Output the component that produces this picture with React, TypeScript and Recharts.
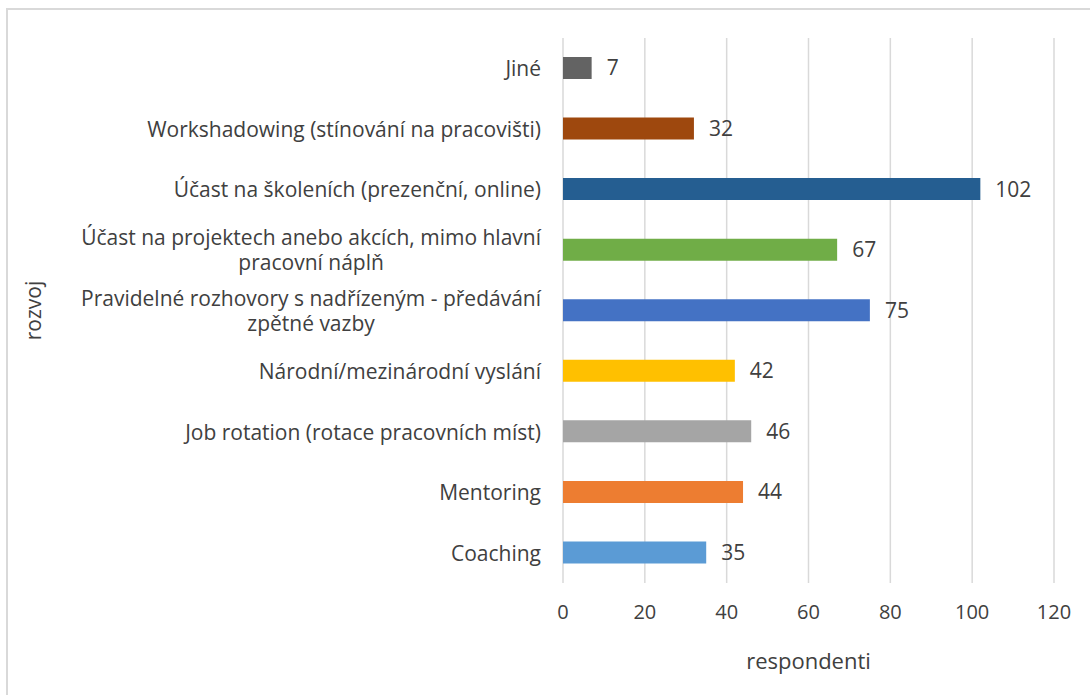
import { BarChart, Bar, XAxis, YAxis, CartesianGrid, Cell, LabelList } from 'recharts';

const categories = [
  'Jiné',
  'Workshadowing (stínování na pracovišti)',
  'Účast na školeních (prezenční, online)',
  'Účast na projektech anebo akcích, mimo hlavní pracovní náplň',
  'Pravidelné rozhovory s nadřízeným - předávání zpětné vazby',
  'Národní/mezinárodní vyslání',
  'Job rotation (rotace pracovních míst)',
  'Mentoring',
  'Coaching',
];
const respondents = [7, 32, 102, 67, 75, 42, 46, 44, 35];
const barColors = ['#636363', '#9E480E', '#255E91', '#70AD47', '#4472C4', '#FFC000', '#A5A5A5', '#ED7D31', '#5B9BD5'];
const xTicks = [0, 20, 40, 60, 80, 100, 120];

const FONT = "'Open Sans', sans-serif";
const TEXT = '#404040';
const CAT_SIZE = 21;

let ctx: CanvasRenderingContext2D | null = null;
const measure = (s: string, size: number) => {
  if (!ctx) ctx = document.createElement('canvas').getContext('2d');
  if (!ctx) return s.length * size * 0.5;
  ctx.font = `${size}px 'Open Sans'`;
  return ctx.measureText(s).width;
};

// break long labels into lines like Excel does
const wrap = (label: string, maxWidth: number, size: number) => {
  const words = label.split(' ');
  const lines: string[] = [];
  let cur = '';
  words.forEach((w) => {
    const next = cur ? cur + ' ' + w : w;
    if (cur && measure(next, size) > maxWidth) {
      lines.push(cur);
      cur = w;
    } else cur = next;
  });
  if (cur) lines.push(cur);
  return lines;
};

const CategoryTick = ({ x, y, payload }: any) => {
  const lines = wrap(payload.value, 500, CAT_SIZE);
  const widest = Math.max(...lines.map((l) => measure(l, CAT_SIZE)));
  const cx = x - widest / 2;
  const lineH = 25;
  const startY = y - ((lines.length - 1) * lineH) / 2;
  return (
    <text textAnchor="middle" fill={TEXT} fontSize={CAT_SIZE} fontFamily={FONT} dominantBaseline="central">
      {lines.map((l, i) => (
        <tspan key={i} x={cx} y={startY + i * lineH}>
          {l}
        </tspan>
      ))}
    </text>
  );
};

const data = categories.map((name, i) => ({ name, value: respondents[i] }));

export default function App() {
  return (
    <div style={{ position: 'fixed', left: 0, top: 0, width: 1090, height: 695, overflow: 'hidden', background: '#fff' }}>
      <div
        style={{
          position: 'absolute',
          left: 6,
          top: 8,
          width: 1200,
          height: 800,
          border: '2px solid #d9d9d9',
        }}
      />
      <div style={{ position: 'absolute', left: 0, top: 0 }}>
        <BarChart
          width={1090}
          height={695}
          data={data}
          layout="vertical"
          margin={{ top: 38, right: 36, bottom: 0, left: 0 }}
        >
          <CartesianGrid horizontal={false} stroke="#d9d9d9" strokeWidth={1.5} />
          <XAxis
            type="number"
            domain={[0, 120]}
            ticks={xTicks}
            axisLine={false}
            tickLine={false}
            tickSize={0}
            tickMargin={22}
            tick={{ fill: TEXT, fontSize: 20, fontFamily: FONT }}
            label={{
              value: 'respondenti',
              position: 'insideBottom',
              offset: 26,
              fill: TEXT,
              fontSize: 22,
              fontFamily: FONT,
            }}
            height={112}
          />
          <YAxis
            type="category"
            dataKey="name"
            width={563}
            axisLine={false}
            tickLine={false}
            tickSize={0}
            tickMargin={22}
            interval={0}
            tick={<CategoryTick />}
            label={{
              content: ({ viewBox }: any) => (
                <text
                  x={33}
                  y={viewBox.y + viewBox.height / 2}
                  transform={`rotate(-90 33 ${viewBox.y + viewBox.height / 2})`}
                  textAnchor="middle"
                  dominantBaseline="central"
                  fill={TEXT}
                  fontSize={21}
                  fontFamily={FONT}
                >
                  rozvoj
                </text>
              ),
            }}
          />
          <Bar dataKey="value" barSize={22} isAnimationActive={false}>
            {data.map((d, i) => (
              <Cell key={d.name} fill={barColors[i]} />
            ))}
            <LabelList dataKey="value" position="right" offset={15} fill={TEXT} fontSize={21} fontFamily={FONT} />
          </Bar>
        </BarChart>
      </div>
    </div>
  );
}
